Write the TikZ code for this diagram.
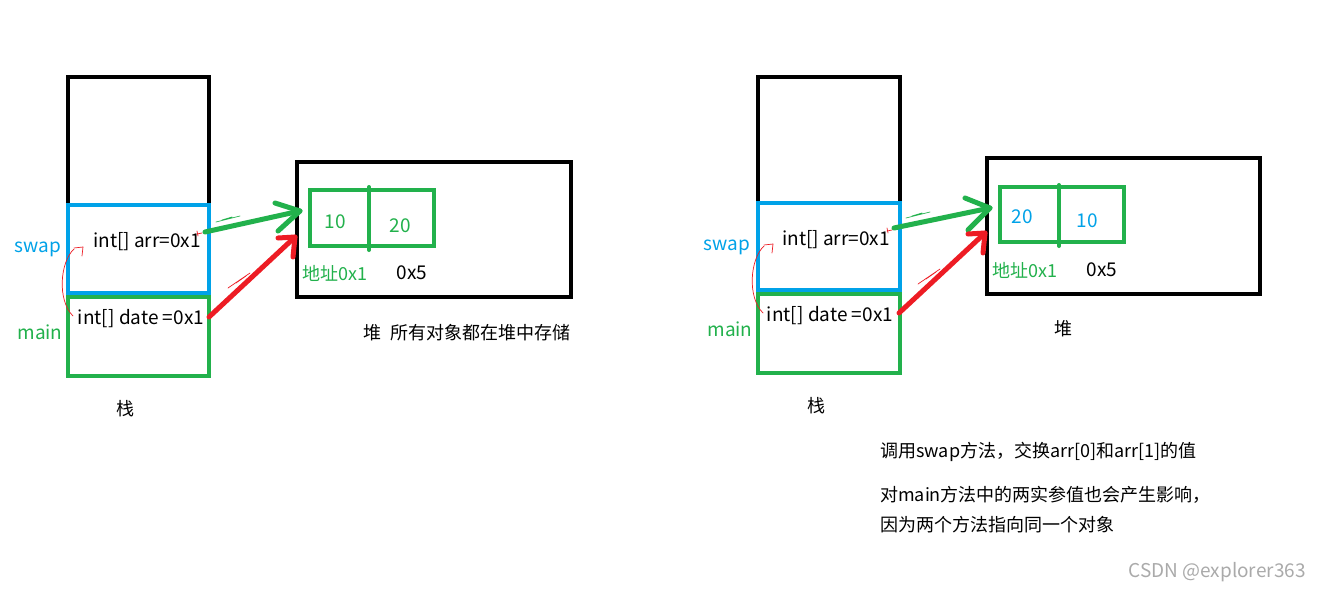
\documentclass[tikz,border=0pt]{standalone}
\usepackage{fontspec}
\setmainfont{Noto Sans CJK SC}
\definecolor{pblue}{RGB}{0,162,232}
\definecolor{pgreen}{RGB}{34,177,76}
\definecolor{pred}{RGB}{237,28,36}
\definecolor{wm}{RGB}{170,170,170}
\begin{document}
\begin{tikzpicture}[x=1pt,y=-1pt,
  blk/.style={draw=black,line width=4.5pt},
  bluebox/.style={draw=pblue,line width=4.5pt},
  greenbox/.style={draw=pgreen,line width=4.5pt},
  cellbox/.style={draw=pgreen,line width=4.5pt},
  txt/.style={inner sep=0pt,font=\fontsize{18}{18}\selectfont},
  ltxt/.style={inner sep=0pt,font=\fontsize{19}{19}\selectfont},
  ptr/.style={line width=5pt,line cap=round,line join=round},
  thin/.style={line width=0.7pt,line cap=round},
  ]
\useasboundingbox (0,0) rectangle (1321,592);
\fill[white] (0,0) rectangle (1321,592);

% ================= LEFT =================
\draw[blk] (68,205) -- (68,77) -- (209,77) -- (209,205);
\draw[bluebox] (68,205) rectangle (209,293);
\draw[greenbox] (68,297) rectangle (209,376);
\draw[blk] (297,162) rectangle (571,297);
\draw[cellbox] (310,190) rectangle (434,246);
\draw[pgreen,line width=4pt,line cap=round] (369,187) -- (369,250);

\node[ltxt,text=pblue] (swapL) at (38,249) {swap};
\node[ltxt,text=pgreen] (mainL) at (40,332) {main};
\node[ltxt] (arrL) at (147,242) {int[] arr=0x1};
\node[ltxt] (dateL) at (141,319) {int[] date =0x1};
\node[txt] (stackL) at (125,409) {栈};
\node[ltxt,text=pgreen] (c1L) at (335,222) {10};
\node[ltxt,text=pgreen] (c2L) at (400,226) {20};
\node[txt,text=pgreen] (addrL) at (335,273) {地址0x1};
\node[ltxt] (x5L) at (412,273) {0x5};
\node[txt] (heapL) at (467,333) {堆\ \ 所有对象都在堆中存储};

\coordinate (gAs) at (205,232);
\coordinate (gAt) at (300,211);
\coordinate (gA1) at (275,203);
\coordinate (gA2) at (278,231);
\coordinate (rAs) at (209,317);
\coordinate (rAt) at (295,237);
\coordinate (rA1) at (278,238);
\coordinate (rA2) at (293,257);
\draw[ptr,pgreen] (gAs) -- (gAt);
\draw[ptr,pgreen] (gA1) -- (gAt) -- (gA2);
\draw[ptr,pred] (rAs) -- (rAt);
\draw[ptr,pred] (rA1) -- (rAt) -- (rA2);
\draw[thin,pgreen] (216,222) -- (240,216) (222,220) -- (232,217);
\draw[thin,pred] (228,288) -- (250,273) (236,283) -- (246,276);
\draw[thin,pred] (198,236) -- (197,231) (202,233) -- (197,234);
\draw[thin,pred] (74,248) -- (83,247) -- (82,256);
\draw[thin,pred] (74,249) .. controls (60,262) and (57,300) .. (73,316);

% ================= RIGHT =================
\draw[blk] (758,203) -- (758,77) -- (900,77) -- (900,203);
\draw[bluebox] (758,203) rectangle (900,290);
\draw[greenbox] (758,294) rectangle (900,373);
\draw[blk] (987,158) rectangle (1260,294);
\draw[cellbox] (1000,187) rectangle (1124,242);
\draw[pgreen,line width=4pt,line cap=round] (1059,185) -- (1059,246);

\node[ltxt,text=pblue] (swapR) at (727,247) {swap};
\node[ltxt,text=pgreen] (mainR) at (730,329) {main};
\node[ltxt] (arrR) at (836,240) {int[] arr=0x1};
\node[ltxt] (dateR) at (830,316) {int[] date =0x1};
\node[txt] (stackR) at (816,406) {栈};
\node[ltxt,text=pblue] (c1R) at (1022,217) {20};
\node[ltxt,text=pblue] (c2R) at (1087,221) {10};
\node[txt,text=pgreen] (addrR) at (1025,270) {地址0x1};
\node[ltxt] (x5R) at (1102,270) {0x5};
\node[txt] (heapR) at (1063,329) {堆};

\coordinate (gBs) at (894,228);
\coordinate (gBt) at (990,208);
\coordinate (gB1) at (965,198);
\coordinate (gB2) at (968,230);
\coordinate (rBs) at (899,313);
\coordinate (rBt) at (985,233);
\coordinate (rB1) at (968,234);
\coordinate (rB2) at (983,253);
\draw[ptr,pgreen] (gBs) -- (gBt);
\draw[ptr,pgreen] (gB1) -- (gBt) -- (gB2);
\draw[ptr,pred] (rBs) -- (rBt);
\draw[ptr,pred] (rB1) -- (rBt) -- (rB2);
\draw[thin,pgreen] (906,218) -- (930,212) (912,216) -- (922,213);
\draw[thin,pred] (918,284) -- (940,269) (926,279) -- (936,272);
\draw[thin,pred] (888,233) -- (887,228) (892,230) -- (887,231);
\draw[thin,pred] (764,245) -- (773,244) -- (772,253);
\draw[thin,pred] (764,246) .. controls (750,259) and (747,297) .. (763,313);

\node[txt,anchor=west] (note1) at (880,452) {调用swap方法，交换arr[0]和arr[1]的值};
\node[txt,anchor=west] (note2) at (880,495) {对main方法中的两实参值也会产生影响，};
\node[txt,anchor=west] (note3) at (880,525) {因为两个方法指向同一个对象};
\node[ltxt,text=wm] (wmark) at (1217,572) {CSDN @explorer363};
\end{tikzpicture}
\end{document}
